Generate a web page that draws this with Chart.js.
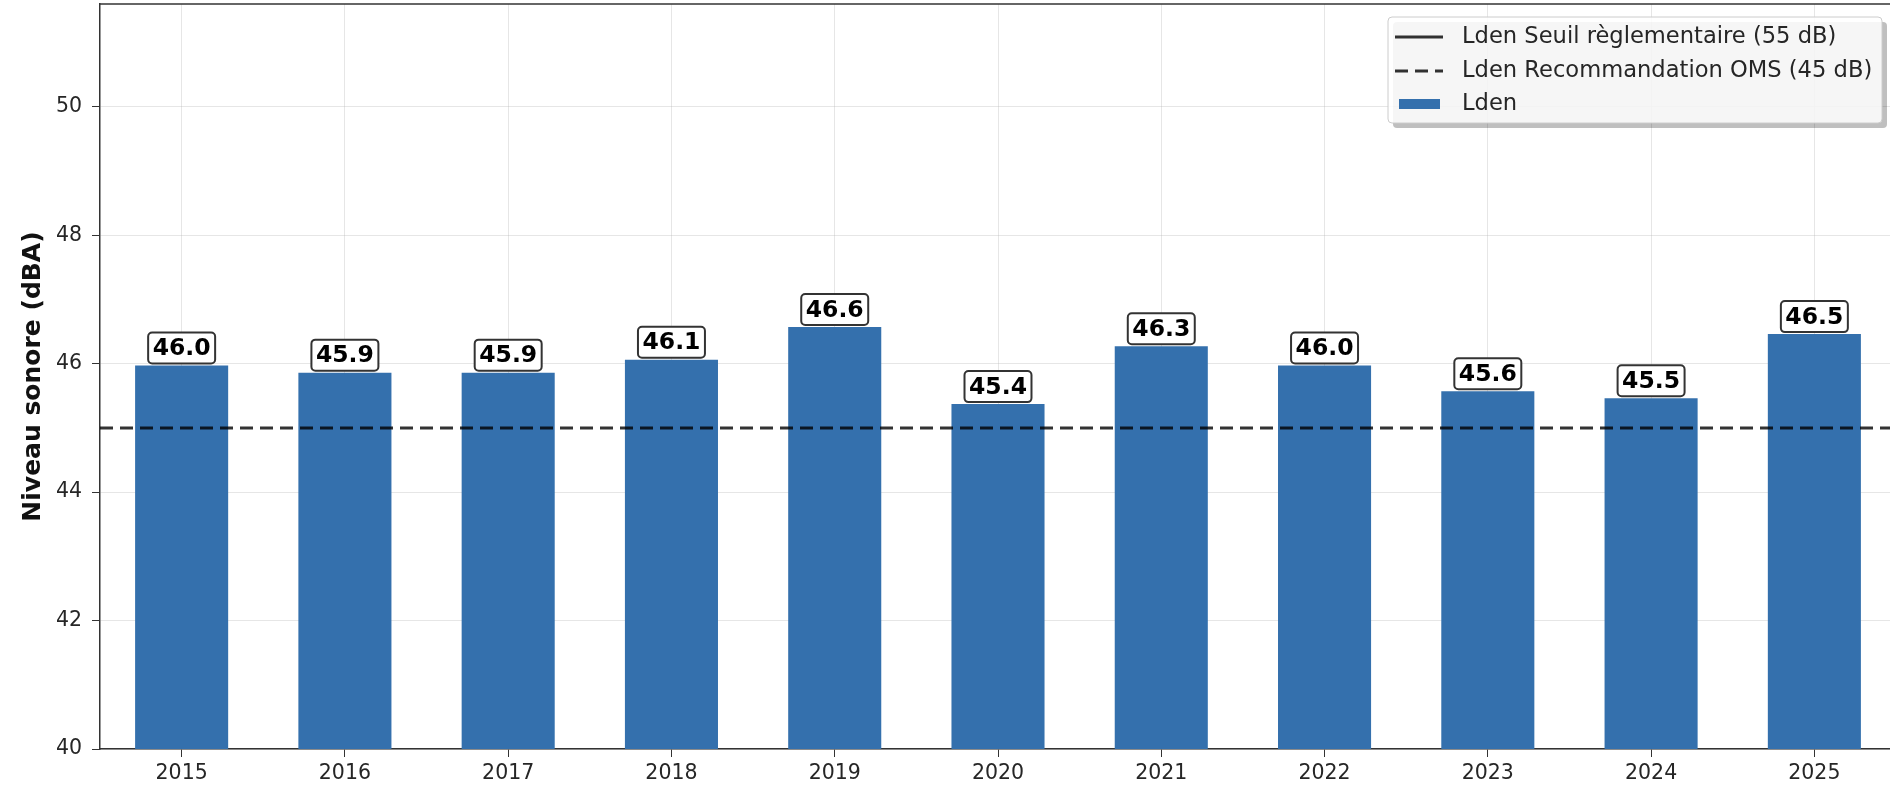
<!DOCTYPE html>
<html>
<head>
<meta charset="utf-8">
<script src="https://cdn.jsdelivr.net/npm/chart.js@4/dist/chart.umd.min.js"></script>
<style>
  html, body { margin: 0; padding: 0; background: #fff; overflow: hidden; }
  #wrap { position: relative; width: 1900px; height: 787px; }
</style>
</head>
<body>
<div id="wrap"><canvas id="chart"></canvas></div>
<script>
// Données
const years = ['2015', '2016', '2017', '2018', '2019', '2020', '2021', '2022', '2023', '2024', '2025'];
const ldenValues = [45.97, 45.86, 45.86, 46.06, 46.57, 45.37, 46.27, 45.97, 45.57, 45.46, 46.46];
const yTicks = [40, 42, 44, 46, 48, 50];
const seuilReglementaire = 55;
const recommandationOMS = 45;
const legendLabels = ['Lden Seuil règlementaire (55 dB)', 'Lden Recommandation OMS (45 dB)', 'Lden'];

const BAR_COLOR = '#3470ad';
const REF_COLOR = 'rgba(0,0,0,0.8)';
const REF_DASH = [13, 7];
const GRID_COLOR = 'rgba(176,176,176,0.32)';
const TEXT_COLOR = '#262626';

Chart.defaults.font.family = '"DejaVu Sans", sans-serif';
Chart.defaults.color = TEXT_COLOR;

// Horizontal reference lines (axhline style), across the whole plot area
const refLines = {
  id: 'refLines',
  afterDatasetsDraw(chart) {
    const ctx = chart.ctx;
    const area = chart.chartArea;
    const y = chart.scales.y;
    ctx.save();
    ctx.beginPath();
    ctx.rect(area.left, area.top, area.right - area.left, area.bottom - area.top);
    ctx.clip();
    ctx.strokeStyle = REF_COLOR;
    ctx.lineWidth = 3;
    [[seuilReglementaire, []], [recommandationOMS, REF_DASH]].forEach(([v, dash]) => {
      const py = y.getPixelForValue(v);
      ctx.setLineDash(dash);
      ctx.beginPath();
      ctx.moveTo(area.left, py);
      ctx.lineTo(area.right, py);
      ctx.stroke();
    });
    ctx.restore();
  }
};

// Value labels in rounded boxes above each bar
const valueLabels = {
  id: 'valueLabels',
  afterDraw(chart) {
    const ctx = chart.ctx;
    const meta = chart.getDatasetMeta(0);
    ctx.save();
    ctx.font = 'bold 23.5px "DejaVu Sans"';
    ctx.textAlign = 'center';
    ctx.textBaseline = 'middle';
    meta.data.forEach((bar, i) => {
      const txt = ldenValues[i].toFixed(1);
      const w = ctx.measureText(txt).width + 9;
      const h = 31;
      const x = bar.x - w / 2;
      const y = bar.y - 2 - h;
      ctx.beginPath();
      ctx.roundRect(x, y, w, h, 4);
      ctx.fillStyle = '#fff';
      ctx.fill();
      ctx.lineWidth = 2;
      ctx.strokeStyle = '#333';
      ctx.stroke();
      ctx.fillStyle = '#000';
      ctx.fillText(txt, bar.x, y + h / 2 + 1);
    });
    ctx.restore();
  }
};

// Top spine + matplotlib-like legend
const frameAndLegend = {
  id: 'frameAndLegend',
  afterDraw(chart) {
    const ctx = chart.ctx;
    const area = chart.chartArea;
    ctx.save();
    ctx.strokeStyle = '#333';
    ctx.lineWidth = 1.5;
    ctx.beginPath();
    ctx.moveTo(area.left, area.top);
    ctx.lineTo(area.right, area.top);
    ctx.stroke();

    // legend box
    const bx = 1388, by = 17, bw = 494, bh = 106;
    ctx.fillStyle = 'rgba(0,0,0,0.25)';
    ctx.beginPath();
    ctx.roundRect(bx + 5, by + 5, bw, bh, 4);
    ctx.fill();
    ctx.fillStyle = 'rgba(255,255,255,0.86)';
    ctx.strokeStyle = '#cccccc';
    ctx.lineWidth = 1;
    ctx.beginPath();
    ctx.roundRect(bx, by, bw, bh, 4);
    ctx.fill();
    ctx.stroke();

    const rows = [37, 71, 104];
    ctx.font = '22.6px "DejaVu Sans"';
    ctx.textBaseline = 'middle';
    ctx.textAlign = 'left';
    rows.forEach((ry, i) => {
      if (i < 2) {
        ctx.strokeStyle = REF_COLOR;
        ctx.lineWidth = 3;
        ctx.setLineDash(i === 1 ? REF_DASH : []);
        ctx.beginPath();
        ctx.moveTo(1395, ry);
        ctx.lineTo(1443, ry);
        ctx.stroke();
        ctx.setLineDash([]);
      } else {
        ctx.fillStyle = BAR_COLOR;
        ctx.fillRect(1399, ry - 5, 41, 10);
      }
      ctx.fillStyle = TEXT_COLOR;
      ctx.fillText(legendLabels[i], 1462, ry);
    });
    ctx.restore();
  }
};

new Chart(document.getElementById('chart'), {
  type: 'bar',
  data: {
    labels: years,
    datasets: [{
      label: 'Lden',
      data: ldenValues,
      backgroundColor: BAR_COLOR,
      barPercentage: 0.57,
      categoryPercentage: 1
    }]
  },
  options: {
    responsive: true,
    maintainAspectRatio: false,
    animation: false,
    layout: { padding: { top: 4, right: 4, left: 0, bottom: 0 } },
    plugins: {
      legend: { display: false },
      tooltip: { enabled: false }
    },
    scales: {
      x: {
        z: 1,
        offset: true,
        grid: { offset: false, color: GRID_COLOR, lineWidth: 1, tickColor: '#333', tickLength: 8 },
        border: { color: '#333', width: 1.5 },
        ticks: { font: { size: 20.5 }, color: TEXT_COLOR, padding: 4, maxRotation: 0 },
        afterFit(scale) {
          scale.height = 38;
          scale.paddingLeft = 0;
          scale.paddingRight = 0;
        }
      },
      y: {
        z: 1,
        min: 40,
        max: 51.6,
        grid: { color: GRID_COLOR, lineWidth: 1, tickColor: '#333', tickLength: 8 },
        border: { color: '#333', width: 1.5 },
        ticks: { font: { size: 20.5 }, color: TEXT_COLOR, padding: 10 },
        afterBuildTicks(scale) {
          scale.ticks = yTicks.map(v => ({ value: v }));
        },
        title: {
          display: true,
          text: 'Niveau sonore (dBA)',
          font: { size: 25, weight: 'bold' },
          color: '#111',
          padding: { top: 18, bottom: 0 }
        },
        afterFit(scale) {
          scale.width = 100;
          scale.paddingTop = 0;
          scale.paddingBottom = 0;
        }
      }
    }
  },
  plugins: [refLines, valueLabels, frameAndLegend]
});
</script>
</body>
</html>
